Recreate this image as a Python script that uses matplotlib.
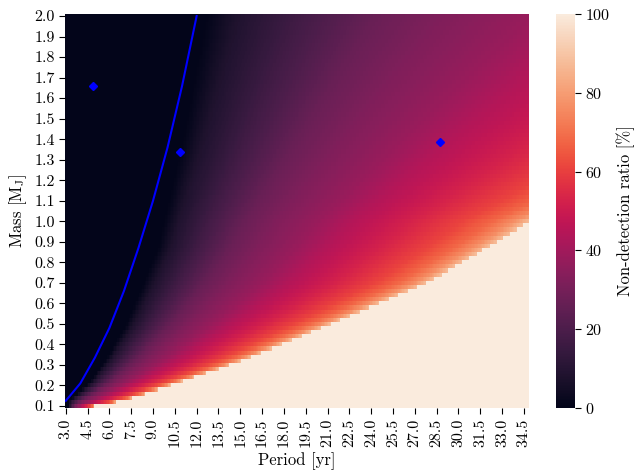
import numpy as np
import matplotlib
matplotlib.use("Agg")
import matplotlib.pyplot as plt
import seaborn as sns

plt.rcParams['font.family'] = 'serif'
plt.rcParams['font.serif'] = ['cmr10', 'DejaVu Serif']
plt.rcParams['mathtext.fontset'] = 'cm'
plt.rcParams['axes.unicode_minus'] = False
plt.rcParams['axes.formatter.use_mathtext'] = True

# grid of the map
periods = np.round(np.arange(3.0, 34.85, 0.1), 1)      # yr
masses = np.round(np.arange(0.10, 2.001, 0.02), 2)      # M_J

# tick labels
period_ticks = np.round(np.arange(3.0, 34.51, 1.5), 1)
mass_ticks = np.round(np.arange(0.1, 2.001, 0.1), 1)

# blue limit curve
curve_P = [3.0, 4.0, 5.0, 6.0, 7.0, 8.0, 9.0, 10.0, 11.0, 12.0]
curve_M = [0.125, 0.21, 0.335, 0.48, 0.66, 0.87, 1.10, 1.36, 1.66, 2.0]

# edge of the fully detected (0 %) region
zero_P = [3.2, 4.6, 5.8, 7.0, 8.1, 9.3, 10.9, 12.6]
zero_M = [0.125, 0.21, 0.335, 0.48, 0.66, 0.87, 1.36, 2.0]

# boundary of the fully undetectable (100 %) region
edge_P = [5.0, 6.5, 7.6, 14.3, 21.2, 27.8, 34.9, 38.1, 46.5, 66.0]
edge_M = [0.10, 0.12, 0.14, 0.30, 0.50, 0.70, 1.00, 1.10, 1.385, 2.00]

# ramp of non-detection ratio between the two boundaries
ramp_w = [0.0, 0.04, 0.12, 0.22, 0.30, 0.42, 0.51, 0.68, 0.82, 0.90, 0.96, 1.0]
ramp_v = [0.0, 8.0, 17.0, 27.0, 32.0, 38.0, 44.0, 53.0, 61.0, 68.0, 77.0, 88.0]

# known objects (blue diamonds)
obj_P = [4.86, 10.86, 28.7]
obj_M = [1.66, 1.337, 1.385]

# ---- build the map ----
lm = np.log(masses)
p0 = np.interp(masses, zero_M, zero_P)
p100 = np.exp(np.interp(lm, np.log(edge_M), np.log(edge_P)))
PP, _ = np.meshgrid(periods, masses)
W = (PP - p0[:, None]) / (p100[:, None] - p0[:, None])
Z = np.interp(np.clip(W, 0, 1), ramp_w, ramp_v)
Z[W >= 1] = 100.0
Z[W <= 0] = 0.0

fig = plt.figure(figsize=(6.35, 4.74), dpi=100)
ax = fig.add_axes([0.1024, 0.1392, 0.7306, 0.8313])
cax = fig.add_axes([0.8756, 0.1392, 0.0299, 0.8313])

dp, dm = 0.1, 0.02
Pe = np.append(periods - dp / 2, periods[-1] + dp / 2)
Me = np.append(masses - dm / 2, masses[-1] + dm / 2)
cmap = sns.color_palette("rocket", as_cmap=True)
mesh = ax.pcolormesh(Pe, Me, Z, cmap=cmap, vmin=0, vmax=100, shading='flat',
                     rasterized=True)

ax.plot(curve_P, curve_M, color='blue', lw=1.5)
ax.plot(obj_P, obj_M, 'D', color='blue', ms=4.5, ls='none')

ax.set_xlim(Pe[0], Pe[-1])
ax.set_ylim(Me[0], Me[-1])
for s in ax.spines.values():
    s.set_visible(False)
ax.set_xticks(period_ticks)
ax.set_xticklabels([f"{v:.1f}" for v in period_ticks], rotation=90)
ax.set_yticks(mass_ticks)
ax.set_yticklabels([f"{v:.1f}" for v in mass_ticks])
ax.tick_params(labelsize=11.5, length=4)
ax.set_xlabel("Period [yr]", fontsize=12)
ax.set_ylabel(r"Mass [M$_\mathrm{J}$]", fontsize=12)

cb = fig.colorbar(mesh, cax=cax)
cb.outline.set_visible(False)
cb.set_ticks([0, 20, 40, 60, 80, 100])
cb.ax.tick_params(labelsize=11.5, length=4)
cb.set_label("Non-detection ratio [%]", fontsize=12)

fig.savefig("out.png", dpi=100)
